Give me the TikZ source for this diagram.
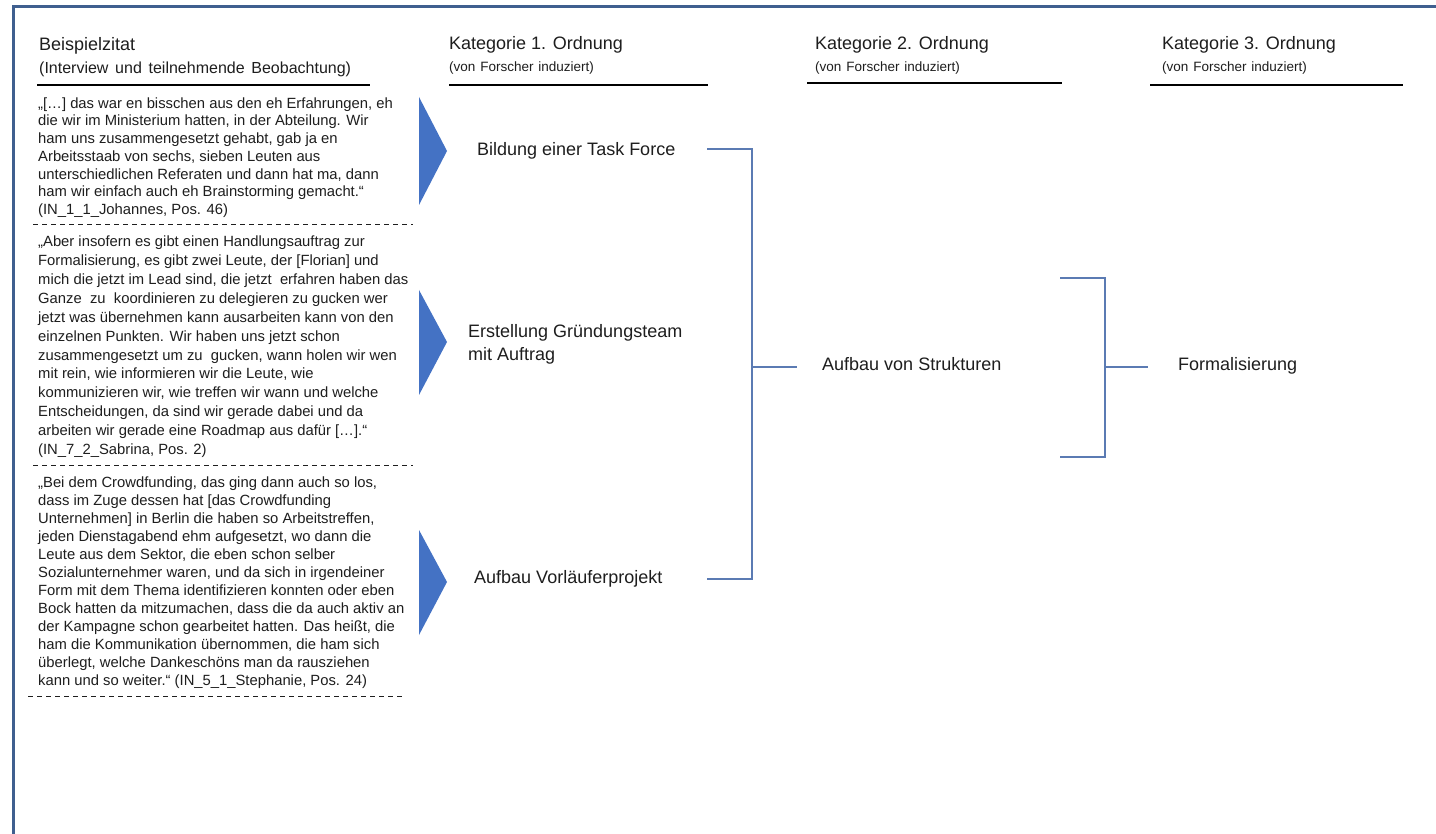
\documentclass[tikz,border=0pt]{standalone}
\usepackage{fontspec}
\setmainfont{Liberation Sans}
\definecolor{ink}{HTML}{1E1E1E}
\definecolor{framecol}{HTML}{3F5F8F}
\definecolor{arrowblue}{HTML}{4472C4}
\definecolor{linkblue}{HTML}{5B7BB3}
\newcommand{\widespaces}[1]{\spaceskip=#1\relax}
\begin{document}
% multi-line nodes are placed by the baseline of their LAST line
\begin{tikzpicture}[x=1pt,y=-1pt,
  txt/.style={inner sep=0pt, anchor=base west, text=ink, align=left},
  headtitle/.style={txt, font=\fontsize{18}{22}\selectfont},
  headsub/.style={txt, font=\fontsize{13.5}{16}\selectfont},
  quotetext/.style={txt, font=\fontsize{14.8}{#1}\selectfont},
  cattext/.style={txt, font=\fontsize{18}{23}\selectfont},
  headrule/.style={draw=black, line width=1.2pt},
  sepline/.style={draw=ink, line width=0.9pt, dash pattern=on 5pt off 4pt},
  chevron/.style={fill=arrowblue},
  link/.style={draw=linkblue, line width=1.2pt},
  framebar/.style={draw=framecol, line width=3pt}
]
% canvas
\fill[white] (0,0) rectangle (1436,834);
\useasboundingbox (0,0) rectangle (1436,834);

% frame along the top and left
\coordinate (fbl) at (13,834);
\coordinate (ftl) at (13,7);
\coordinate (ftr) at (1436,7);
\draw[framebar] (fbl) -- (ftl) -- (ftr);

% column headings
\node[headtitle] (h0) at (39,51) {Beispielzitat};
\node[txt, font=\fontsize{16}{19}\selectfont] (h0s) at (39,74) {\widespaces{0.42em}(Interview und teilnehmende Beobachtung)};
\node[headtitle] (h1) at (449,50) {Kategorie 1. Ordnung};
\node[headsub] (h1s) at (449,72) {\widespaces{0.36em}(von Forscher induziert)};
\node[headtitle] (h2) at (815,50) {Kategorie 2. Ordnung};
\node[headsub] (h2s) at (815,72) {\widespaces{0.36em}(von Forscher induziert)};
\node[headtitle] (h3) at (1162,50) {Kategorie 3. Ordnung};
\node[headsub] (h3s) at (1162,72) {\widespaces{0.36em}(von Forscher induziert)};

\coordinate (r0a) at (37,85);   \coordinate (r0b) at (370,85);
\coordinate (r1a) at (449,85);  \coordinate (r1b) at (708,85);
\coordinate (r2a) at (807,83);  \coordinate (r2b) at (1062,83);
\coordinate (r3a) at (1150,85); \coordinate (r3b) at (1403,85);
\draw[headrule] (r0a) -- (r0b);
\draw[headrule] (r1a) -- (r1b);
\draw[headrule] (r2a) -- (r2b);
\draw[headrule] (r3a) -- (r3b);

% example quotes
\node[quotetext=17.7pt] (q1) at (38,214.5) {%
„[…] das war en bisschen aus den eh Erfahrungen, eh\\
die wir im Ministerium hatten, in der Abteilung. Wir\\
ham uns zusammengesetzt gehabt, gab ja en\\
Arbeitsstaab von sechs, sieben Leuten aus\\
unterschiedlichen Referaten und dann hat ma, dann\\
ham wir einfach auch eh Brainstorming gemacht.“\\
(IN\_1\_1\_Johannes, Pos. 46)};

\node[quotetext=18.9pt] (q2) at (38,454.5) {%
„Aber insofern es gibt einen Handlungsauftrag zur\\
Formalisierung, es gibt zwei Leute, der [Florian] und\\
mich die jetzt im Lead sind, die jetzt\ \ erfahren haben das\\
Ganze\ \ zu\ \ koordinieren zu delegieren zu gucken wer\\
jetzt was übernehmen kann ausarbeiten kann von den\\
einzelnen Punkten. Wir haben uns jetzt schon\\
zusammengesetzt um zu\ \ gucken, wann holen wir wen\\
mit rein, wie informieren wir die Leute, wie\\
kommunizieren wir, wie treffen wir wann und welche\\
Entscheidungen, da sind wir gerade dabei und da\\
arbeiten wir gerade eine Roadmap aus dafür […].“\\
(IN\_7\_2\_Sabrina, Pos. 2)};

\node[quotetext=18pt] (q3) at (38,685.5) {%
„Bei dem Crowdfunding, das ging dann auch so los,\\
dass im Zuge dessen hat [das Crowdfunding\\
Unternehmen] in Berlin die haben so Arbeitstreffen,\\
jeden Dienstagabend ehm aufgesetzt, wo dann die\\
Leute aus dem Sektor, die eben schon selber\\
Sozialunternehmer waren, und da sich in irgendeiner\\
Form mit dem Thema identifizieren konnten oder eben\\
Bock hatten da mitzumachen, dass die da auch aktiv an\\
der Kampagne schon gearbeitet hatten. Das heißt, die\\
ham die Kommunikation übernommen, die ham sich\\
überlegt, welche Dankeschöns man da rausziehen\\
kann und so weiter.“ (IN\_5\_1\_Stephanie, Pos. 24)};

% dashed separators
\coordinate (s1a) at (33,224);  \coordinate (s1b) at (413,224);
\coordinate (s2a) at (33,465);  \coordinate (s2b) at (413,465);
\coordinate (s3a) at (28,696);  \coordinate (s3b) at (402,696);
\draw[sepline] (s1a) -- (s1b);
\draw[sepline] (s2a) -- (s2b);
\draw[sepline] (s3a) -- (s3b);

% blue pointers from quotes to first-order categories
\coordinate (p1a) at (419,97);  \coordinate (p1t) at (447,151); \coordinate (p1b) at (419,205);
\coordinate (p2a) at (419,290); \coordinate (p2t) at (447,342); \coordinate (p2b) at (419,395);
\coordinate (p3a) at (419,530); \coordinate (p3t) at (447,582); \coordinate (p3b) at (419,635);
\fill[chevron] (p1a) -- (p1t) -- (p1b) -- cycle;
\fill[chevron] (p2a) -- (p2t) -- (p2b) -- cycle;
\fill[chevron] (p3a) -- (p3t) -- (p3b) -- cycle;

% first-order categories
\node[cattext] (c1) at (477,156) {Bildung einer Task Force};
\node[cattext] (c2) at (468,361) {Erstellung Gründungsteam\\mit Auftrag};
\node[cattext] (c3) at (474,583) {Aufbau Vorläuferprojekt};

% second- and third-order categories
\node[cattext] (k2) at (822,371) {Aufbau von Strukturen};
\node[cattext] (k3) at (1178,371) {Formalisierung};

% bracket joining first-order to second-order
\coordinate (b1s) at (707,149);
\coordinate (b1t) at (752,149);
\coordinate (b1m) at (752,367);
\coordinate (b1b) at (752,579);
\coordinate (b1e) at (707,579);
\coordinate (b1o) at (797,367);
\draw[link] (b1s) -- (b1t) -- (b1b) -- (b1e);
\draw[link] (b1m) -- (b1o);

% bracket joining second-order to third-order
\coordinate (b2s) at (1060,278);
\coordinate (b2t) at (1105,278);
\coordinate (b2m) at (1105,367);
\coordinate (b2b) at (1105,457);
\coordinate (b2e) at (1060,457);
\coordinate (b2o) at (1148,367);
\draw[link] (b2s) -- (b2t) -- (b2b) -- (b2e);
\draw[link] (b2m) -- (b2o);
\end{tikzpicture}
\end{document}
